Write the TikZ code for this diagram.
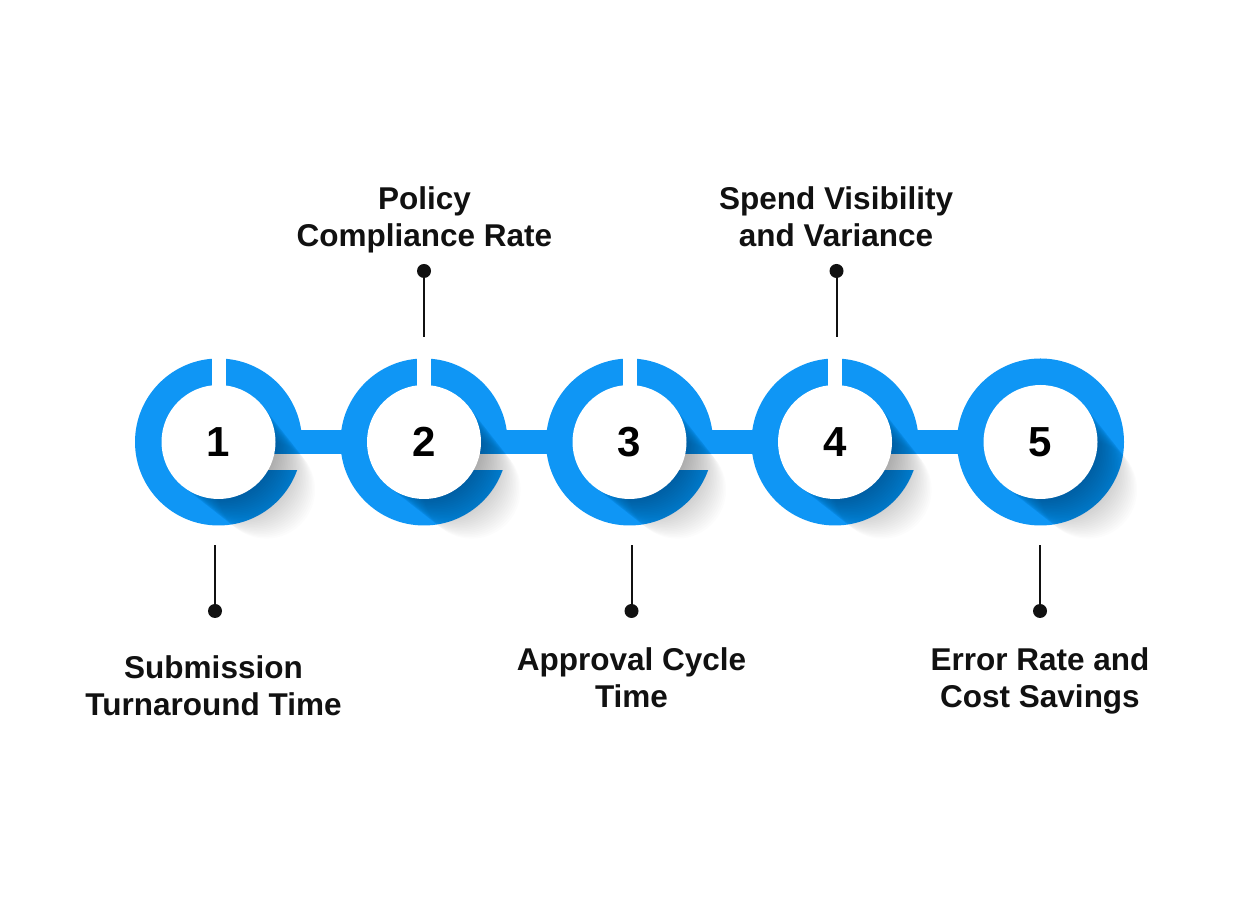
\documentclass[tikz,border=0pt]{standalone}
\usepackage{fontspec}
\setmainfont{Liberation Sans}
\usetikzlibrary{calc}
\definecolor{ringblue}{RGB}{15,150,245}
\definecolor{ink}{RGB}{17,17,17}
\tikzset{
  disc/.style={circle, fill=white, minimum size=114pt, inner sep=0pt,
    font=\fontsize{42}{42}\selectfont\bfseries, text=black},
  lbl/.style={align=center, anchor=base, inner sep=0pt,
    font=\fontsize{31.5}{37}\selectfont\bfseries, text=ink},
  stem/.style={line width=2pt, draw=ink},
  dotmark/.style={circle, fill=ink, minimum size=14pt, inner sep=0pt},
  ringfill/.style={fill=ringblue},
  cutfill/.style={fill=white},
  shadowfill/.style={fill=black, opacity=0.011},
}
\begin{document}
\begin{tikzpicture}[x=1pt,y=1pt]
\fill[white] (0,0) rectangle (1260,904);
\useasboundingbox (0,0) rectangle (1260,904);
\def\cy{462}
% circle centres
\foreach \i/\cx in {1/218.5, 2/424, 3/629.5, 4/835, 5/1040.5}
  \coordinate (c\i) at (\cx,\cy);
% connecting bar
\fill[ringfill] ($(c1)+(0,-12)$) rectangle ($(c5)+(0,12)$);
% rings
\foreach \i in {1,...,5}
  \fill[ringfill] (c\i) circle (83.5);
% top gap and lower-right cut (circles 1-4)
\foreach \i in {1,...,4}{
  \fill[cutfill] ($(c\i)+(-7,35)$) rectangle ($(c\i)+(7,90)$);
  \fill[cutfill] ($(c\i)+(0,-28)$) rectangle ($(c\i)+(92,-12)$);
}
% long shadows of the inner discs
\foreach \i in {1,...,5}{
  \foreach \t in {0,2.5,...,67.5}
    \fill[shadowfill] ($(c\i)+(0.7071*\t,-0.7071*\t)$) circle ({57-0.12*\t});
}
% inner discs with numbers
\foreach \i in {1,...,5}
  \node[disc] (n\i) at (c\i) {\i};
% top labels (anchor = baseline of last line)
\node[lbl] (t2) at (424.5,657) {Policy\\Compliance Rate};
\node[dotmark] (d2) at (424,633) {};
\coordinate (s2) at (424,567);
\draw[stem] (d2.center) -- (s2);
\node[lbl] (t4) at (836,657) {Spend Visibility\\and Variance};
\node[dotmark] (d4) at (836.5,633) {};
\coordinate (s4) at (836.5,567);
\draw[stem] (d4.center) -- (s4);
% bottom labels
\node[lbl] (t1) at (213.5,188) {Submission\\Turnaround Time};
\node[dotmark] (d1) at (215,293) {};
\coordinate (s1) at (215,359);
\draw[stem] (d1.center) -- (s1);
\node[lbl] (t3) at (631.5,196) {Approval Cycle\\Time};
\node[dotmark] (d3) at (631.5,293) {};
\coordinate (s3) at (631.5,359);
\draw[stem] (d3.center) -- (s3);
\node[lbl] (t5) at (1040,196) {Error Rate and\\Cost Savings};
\node[dotmark] (d5) at (1040,293) {};
\coordinate (s5) at (1040,359);
\draw[stem] (d5.center) -- (s5);
\end{tikzpicture}
\end{document}
